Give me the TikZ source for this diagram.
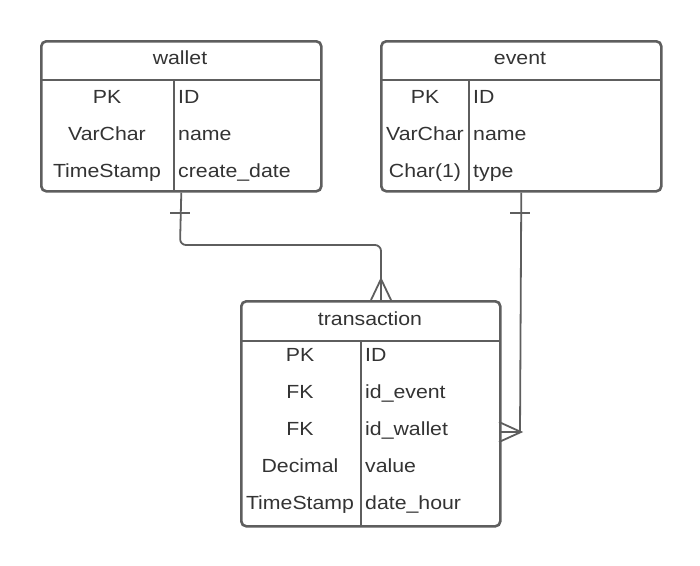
\documentclass[tikz,border=0pt]{standalone}
\usepackage{fontspec}
\setmainfont{Liberation Sans}[FakeStretch=1.12]
\usepackage{xcolor}
\usetikzlibrary{positioning}
\definecolor{linec}{HTML}{5E5E5E}
\definecolor{txtc}{HTML}{333333}
\tikzset{
  tbl/.style={draw=linec,line width=2.6pt,rounded corners=5pt,minimum width=#1,minimum height=150pt,anchor=north west,inner sep=0pt},
  sep/.style={draw=linec,line width=2.6pt},
  conn/.style={draw=linec,line width=1.8pt},
  txt/.style={text=txtc,font=\fontsize{19}{22}\selectfont,inner sep=0pt,text height=13.5pt,text depth=0pt},
  keyc/.style={txt,anchor=center},
  namec/.style={txt,anchor=west}
}
\begin{document}
\begin{tikzpicture}[x=1pt,y=-1pt]
\useasboundingbox (0,0) rectangle (700,565);
% wallet
\node[tbl=280pt] (wallet) at (40,40) {};
\draw[sep] (40,80) -- (320,80);
\draw[sep] (174,80) -- (174,190);
\node[txt] (walletT) at (180,58) {wallet};
\foreach \k/\n [count=\i] in {PK/ID,VarChar/name,TimeStamp/create\_date}
  {\node[keyc] (w-k\i) at (107,97+36.7*\i-36.7) {\k};
   \node[namec] (w-n\i) at (178,97+36.7*\i-36.7) {\n};}
% event
\node[tbl=280pt] (event) at (380,40) {};
\draw[sep] (380,80) -- (660,80);
\draw[sep] (469,80) -- (469,190);
\node[txt] (eventT) at (520,58) {event};
\foreach \k/\n [count=\i] in {PK/ID,VarChar/name,Char(1)/type}
  {\node[keyc] (e-k\i) at (425,97+36.7*\i-36.7) {\k};
   \node[namec] (e-n\i) at (473,97+36.7*\i-36.7) {\n};}
% transaction
\node[tbl=259pt,minimum height=225pt] (trans) at (240,300) {};
\draw[sep] (240,341) -- (499,341);
\draw[sep] (361,341) -- (361,525);
\node[txt] (transT) at (370,319) {transaction};
\foreach \k/\n [count=\i] in {PK/ID,FK/id\_event,FK/id\_wallet,Decimal/value,TimeStamp/date\_hour}
  {\node[keyc] (t-k\i) at (300,355+37*\i-37) {\k};
   \node[namec] (t-n\i) at (365,355+37*\i-37) {\n};}
% relations
\coordinate (tin) at (381,300);
\coordinate (tside) at (499,432);
\draw[conn,rounded corners=6pt] (wallet.south) -- (180,245) -- (381,245) -- (tin);
\draw[conn] (170,213) -- (190,213);
\draw[conn] (371,300) -- (381,279) -- (391,300);
\draw[conn] (event.south) -- (520,432) -- (tside);
\draw[conn] (510,213) -- (530,213);
\draw[conn] (499,422) -- (521,432) -- (499,442);
\end{tikzpicture}
\end{document}
